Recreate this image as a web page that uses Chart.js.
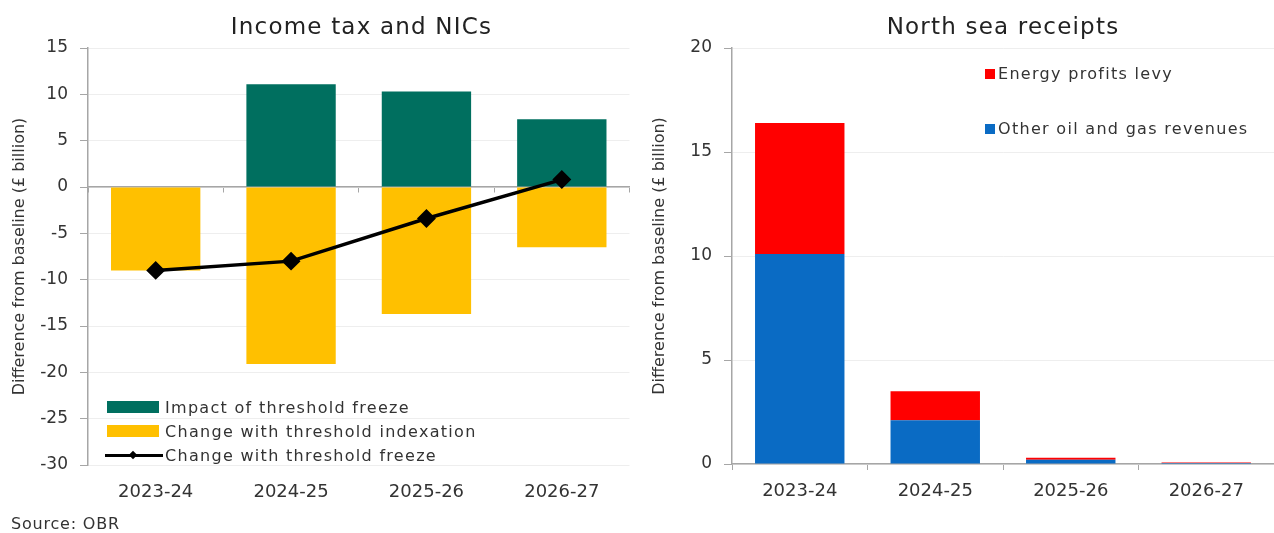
<!DOCTYPE html>
<html lang="en">
<head>
    <meta charset="UTF-8">
    <title>Income tax and NICs / North sea receipts</title>
    <script src="https://cdn.jsdelivr.net/npm/chart.js"></script>
    <style>
        body { margin: 0; background: #fff; font-family: "DejaVu Sans", sans-serif; color: #333; }
        .wrap { position: relative; width: 1274px; height: 533px; overflow: hidden; }
        .box { position: absolute; top: 0; height: 533px; }
        .title { position: absolute; top: 13px; font-size: 23px; letter-spacing: 1.2px; text-align: center; color: #222; }
        .legend { position: absolute; font-size: 16px; letter-spacing: 1.3px; color: #333; line-height: 19px; }
        .legend div { position: relative; white-space: nowrap; }
        .sw { position: absolute; }
        .source { position: absolute; left: 11px; top: 514px; font-size: 16px; letter-spacing: 0.8px; color: #333; }
    </style>
</head>
<body>
<div class="wrap">
    <div class="box" style="left:0;width:640px"><canvas id="incomeTax" width="640" height="533"></canvas></div>
    <div class="box" style="left:640px;width:634px"><canvas id="northSea" width="634" height="533"></canvas></div>

    <div class="title" style="left:88px;width:547px">Income tax and NICs</div>
    <div class="title" style="left:732px;width:542px">North sea receipts</div>

    <!-- legend, left chart -->
    <div class="legend" style="left:105px;top:398px">
        <div style="height:24px"><span class="sw" style="left:2px;top:3px;width:52px;height:12px;background:#006F5F"></span><span style="margin-left:60px">Impact of threshold freeze</span></div>
        <div style="height:24px"><span class="sw" style="left:2px;top:3px;width:52px;height:12px;background:#FFC000"></span><span style="margin-left:60px">Change with threshold indexation</span></div>
        <div style="height:24px"><span class="sw" style="left:0;top:8px;width:58px;height:3px;background:#000"></span><span class="sw" style="left:25px;top:6px;width:6px;height:6px;background:#000;transform:rotate(45deg)"></span><span style="margin-left:60px">Change with threshold freeze</span></div>
    </div>

    <!-- legend, right chart -->
    <div class="legend" style="left:985px;top:64px">
        <div style="height:55px"><span class="sw" style="left:0;top:5px;width:10px;height:10px;background:#FF0000"></span><span style="margin-left:13px">Energy profits levy</span></div>
        <div style="height:20px"><span class="sw" style="left:0;top:5px;width:10px;height:10px;background:#0A6BC4"></span><span style="margin-left:13px">Other oil and gas revenues</span></div>
    </div>

    <div class="source">Source: OBR</div>
</div>

<script>
    // values (£ billion)
    const years = ['2023-24', '2024-25', '2025-26', '2026-27'];
    const freezeImpact = [0, 11.1, 10.3, 7.3];
    const withIndexation = [-9.0, -19.1, -13.7, -6.5];
    const withFreeze = [-9.0, -8.0, -3.4, 0.8];

    const otherOilGas = [10.1, 2.1, 0.2, 0.05];
    const energyLevy = [6.3, 1.4, 0.1, 0.02];

    const leftTicks = [15, 10, 5, 0, -5, -10, -15, -20, -25, -30];

    const fontFamily = '"DejaVu Sans", sans-serif';
    const textColor = '#333';
    const axisColor = '#a6a6a6';
    const gridColor = '#eeeeee';

    Chart.defaults.font.family = fontFamily;
    Chart.defaults.color = textColor;
    Chart.defaults.animation = false;

    const yTitle = {
        display: true,
        text: 'Difference from baseline (£ billion)',
        font: { size: 16 },
        padding: { top: 10, bottom: 0 }
    };

    // Income tax and NICs
    new Chart(document.getElementById('incomeTax'), {
        type: 'bar',
        data: {
            labels: years,
            datasets: [
                {
                    label: 'Change with threshold freeze',
                    type: 'line',
                    data: withFreeze,
                    stack: 'line',
                    order: 0,
                    borderColor: '#000',
                    backgroundColor: '#000',
                    borderWidth: 3.5,
                    pointStyle: 'rectRot',
                    pointRadius: 7,
                    pointHoverRadius: 7
                },
                {
                    label: 'Impact of threshold freeze',
                    data: freezeImpact,
                    stack: 'bars',
                    order: 1,
                    backgroundColor: '#006F5F',
                    categoryPercentage: 0.66,
                    barPercentage: 1
                },
                {
                    label: 'Change with threshold indexation',
                    data: withIndexation,
                    stack: 'bars',
                    order: 2,
                    backgroundColor: '#FFC000',
                    categoryPercentage: 0.66,
                    barPercentage: 1
                }
            ]
        },
        options: {
            responsive: false,
            maintainAspectRatio: false,
            layout: { padding: { top: 48, right: 5, bottom: 0, left: 0 } },
            plugins: { legend: { display: false }, tooltip: { enabled: false } },
            scales: {
                x: {
                    stacked: true,
                    grid: { display: false, drawTicks: false },
                    border: { display: false },
                    ticks: { padding: 17, font: { size: 18 }, maxRotation: 0 },
                    afterFit: s => { s.height = 68; }
                },
                zero: {
                    type: 'category',
                    axis: 'x',
                    position: { y: 0 },
                    offset: true,
                    grid: { offset: true, drawOnChartArea: false, drawTicks: true, tickLength: 5, color: axisColor },
                    border: { display: true, color: axisColor, width: 1.5 },
                    ticks: { display: false }
                },
                y: {
                    stacked: true,
                    min: -30,
                    max: 15,
                    afterBuildTicks: s => { s.ticks = leftTicks.map(v => ({ value: v })); },
                    grid: { color: gridColor, tickColor: axisColor, tickLength: 8 },
                    border: { color: axisColor, width: 1.5 },
                    ticks: { padding: 12, font: { size: 17 } },
                    title: yTitle,
                    afterFit: s => { s.width = 88; }
                }
            }
        }
    });

    // North sea receipts
    new Chart(document.getElementById('northSea'), {
        type: 'bar',
        data: {
            labels: years,
            datasets: [
                {
                    label: 'Other oil and gas revenues',
                    data: otherOilGas,
                    backgroundColor: '#0A6BC4',
                    categoryPercentage: 0.66,
                    barPercentage: 1
                },
                {
                    label: 'Energy profits levy',
                    data: energyLevy,
                    backgroundColor: '#FF0000',
                    categoryPercentage: 0.66,
                    barPercentage: 1
                }
            ]
        },
        options: {
            responsive: false,
            maintainAspectRatio: false,
            layout: { padding: { top: 48, right: 0, bottom: 0, left: 0 } },
            plugins: { legend: { display: false }, tooltip: { enabled: false } },
            scales: {
                x: {
                    stacked: true,
                    grid: { offset: true, drawOnChartArea: false, drawTicks: true, tickLength: 6, color: axisColor },
                    border: { display: true, color: axisColor, width: 1.5 },
                    ticks: { padding: 11, font: { size: 18 }, maxRotation: 0 },
                    afterFit: s => { s.height = 69; }
                },
                y: {
                    stacked: true,
                    min: 0,
                    max: 20,
                    ticks: { stepSize: 5, padding: 12, font: { size: 17 } },
                    grid: { color: gridColor, tickColor: axisColor, tickLength: 8 },
                    border: { color: axisColor, width: 1.5 },
                    title: yTitle,
                    afterFit: s => { s.width = 92; }
                }
            }
        }
    });
</script>
</body>
</html>
